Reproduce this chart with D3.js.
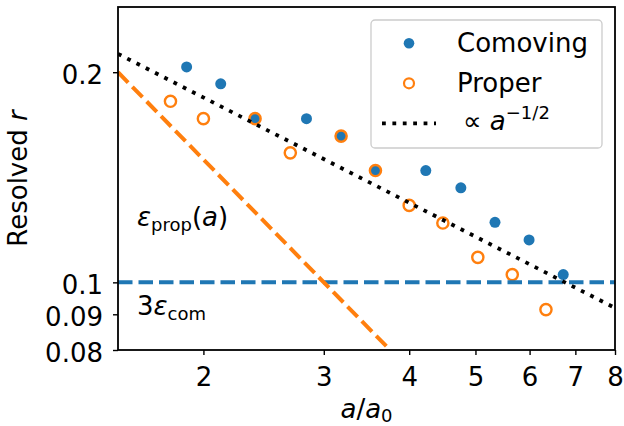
<!DOCTYPE html>
<html>
<head>
<meta charset="utf-8">
<script src="https://cdn.jsdelivr.net/npm/d3@7"></script>
<style>
  body { margin: 0; background: #fff; }
  svg text { font-family: "DejaVu Sans", sans-serif; fill: #000; }
</style>
</head>
<body>
<div id="chart"></div>
<script>
// Values
const comovingA = [1.89, 2.12, 2.38, 2.83, 3.18, 3.57, 4.23, 4.76, 5.34, 5.99, 6.72];
const comovingR = [0.2035, 0.1925, 0.1716, 0.1716, 0.1620, 0.1446, 0.1446, 0.1366, 0.1219, 0.1150, 0.1026];
const properA = [1.79, 2.0, 2.38, 2.68, 3.18, 3.57, 4.0, 4.48, 5.04, 5.66, 6.34];
const properR = [0.1817, 0.1716, 0.1716, 0.1533, 0.1620, 0.1446, 0.1289, 0.1216, 0.1086, 0.1026, 0.0914];

// guide lines (end points)
const guideA = [1.5, 8];
const guideR = [0.2125, 0.0919];
const epsPropA = [1.5, 3.75];
const epsPropR = [0.2, 0.08];
const epsComR = 0.1;

const xTicks = [2, 3, 4, 5, 6, 7, 8];
const yTicks = [0.08, 0.09, 0.1, 0.2];
const xDomain = [1.5, 8];
const yDomain = [0.08, 0.248];

const width = 624, height = 426;
const m = { left: 118, right: 9, top: 7, bottom: 76 };
const blue = "#1f77b4", orange = "#ff7f0e";
const fs = 26, fsSub = 18;

const svg = d3.select("#chart").append("svg")
    .attr("width", width)
    .attr("height", height);

const x = d3.scaleLog().domain(xDomain).range([m.left, width - m.right]);
const y = d3.scaleLog().domain(yDomain).range([height - m.bottom, m.top]);

svg.append("clipPath").attr("id", "clip")
  .append("rect")
    .attr("x", m.left).attr("y", m.top)
    .attr("width", width - m.left - m.right)
    .attr("height", height - m.top - m.bottom);

const plot = svg.append("g").attr("clip-path", "url(#clip)");
const line = d3.line().x(d => x(d[0])).y(d => y(d[1]));

// comoving points
plot.selectAll("circle.com")
  .data(d3.zip(comovingA, comovingR))
  .enter().append("circle")
    .attr("class", "com")
    .attr("cx", d => x(d[0]))
    .attr("cy", d => y(d[1]))
    .attr("r", 5.5)
    .attr("fill", blue);

// proper points
plot.selectAll("circle.prop")
  .data(d3.zip(properA, properR))
  .enter().append("circle")
    .attr("class", "prop")
    .attr("cx", d => x(d[0]))
    .attr("cy", d => y(d[1]))
    .attr("r", 5.6)
    .attr("fill", "none")
    .attr("stroke", orange)
    .attr("stroke-width", 2.4);

// 3 eps_com
plot.append("path")
    .datum([[xDomain[0], epsComR], [xDomain[1], epsComR]])
    .attr("d", line)
    .attr("fill", "none")
    .attr("stroke", blue)
    .attr("stroke-width", 4)
    .attr("stroke-dasharray", "14.5,6");

// eps_prop(a)
plot.append("path")
    .datum(d3.zip(epsPropA, epsPropR))
    .attr("d", line)
    .attr("fill", "none")
    .attr("stroke", orange)
    .attr("stroke-width", 4)
    .attr("stroke-dasharray", "14.5,6");

// a^-1/2 guide
plot.append("path")
    .datum(d3.zip(guideA, guideR))
    .attr("d", line)
    .attr("fill", "none")
    .attr("stroke", "#000")
    .attr("stroke-width", 3.8)
    .attr("stroke-dasharray", "3.8,6.6");

// axes
const xAxis = svg.append("g")
    .attr("transform", `translate(0,${height - m.bottom})`)
    .call(d3.axisBottom(x).tickValues(xTicks).tickFormat(d3.format("d")).tickSize(5));
const yAxis = svg.append("g")
    .attr("transform", `translate(${m.left},0)`)
    .call(d3.axisLeft(y).tickValues(yTicks).tickFormat(d => String(d)).tickSize(5).tickPadding(10));

[xAxis, yAxis].forEach(g => {
  g.select(".domain").remove();
  g.selectAll(".tick line").attr("stroke", "#000").attr("stroke-width", 1.4);
  g.selectAll(".tick text").style("font-size", fs + "px").attr("fill", "#000");
});
xAxis.selectAll(".tick text").attr("y", 36).attr("dy", 0);
yAxis.selectAll(".tick text").attr("dy", "0.43em");

// frame
svg.append("rect")
    .attr("x", m.left).attr("y", m.top)
    .attr("width", width - m.left - m.right)
    .attr("height", height - m.top - m.bottom)
    .attr("fill", "none")
    .attr("stroke", "#000")
    .attr("stroke-width", 1.8);

// axis labels
const xl = svg.append("text")
    .attr("x", (m.left + width - m.right) / 2)
    .attr("y", 418)
    .attr("text-anchor", "middle")
    .style("font-size", fs + "px");
xl.append("tspan").attr("font-style", "italic").text("a");
xl.append("tspan").text("/");
xl.append("tspan").attr("font-style", "italic").text("a");
xl.append("tspan").attr("dy", 4).style("font-size", fsSub + "px").text("0");

const yl = svg.append("text")
    .attr("transform", `translate(27,${(m.top + height - m.bottom) / 2}) rotate(-90)`)
    .attr("text-anchor", "middle")
    .style("font-size", fs + "px");
yl.append("tspan").text("Resolved ");
yl.append("tspan").attr("font-style", "italic").text("r");

// annotations
const t1 = svg.append("text").attr("x", 137).attr("y", 226).style("font-size", fs + "px");
t1.append("tspan").attr("font-style", "italic").text("ε");
t1.append("tspan").attr("dy", 5).style("font-size", fsSub + "px").text("prop");
t1.append("tspan").attr("dy", -5).text("(");
t1.append("tspan").attr("font-style", "italic").text("a");
t1.append("tspan").text(")");

const t2 = svg.append("text").attr("x", 137).attr("y", 315).style("font-size", fs + "px");
t2.append("tspan").text("3");
t2.append("tspan").attr("font-style", "italic").text("ε");
t2.append("tspan").attr("dy", 5).style("font-size", fsSub + "px").text("com");

// legend
const lg = svg.append("g");
lg.append("rect")
    .attr("x", 371).attr("y", 20)
    .attr("width", 231).attr("height", 128)
    .attr("rx", 4)
    .attr("fill", "#fff").attr("fill-opacity", 0.8)
    .attr("stroke", "#cccccc").attr("stroke-width", 1.3);
lg.append("circle").attr("cx", 409).attr("cy", 43.3).attr("r", 5.3).attr("fill", blue);
lg.append("circle").attr("cx", 409).attr("cy", 83.3).attr("r", 5)
    .attr("fill", "none").attr("stroke", orange).attr("stroke-width", 2.2);
lg.append("line")
    .attr("x1", 382).attr("x2", 436).attr("y1", 123.3).attr("y2", 123.3)
    .attr("stroke", "#000").attr("stroke-width", 3.8)
    .attr("stroke-dasharray", "3.8,6.6");
lg.append("text").attr("x", 457).attr("y", 52).style("font-size", fs + "px").text("Comoving");
lg.append("text").attr("x", 457).attr("y", 92).style("font-size", fs + "px").text("Proper");
const t3 = lg.append("text").attr("x", 463).attr("y", 130).style("font-size", fs + "px");
t3.append("tspan").text("∝ ");
t3.append("tspan").attr("font-style", "italic").text("a");
t3.append("tspan").attr("dy", -11).style("font-size", fsSub + "px").text("−1/2");
</script>
</body>
</html>
